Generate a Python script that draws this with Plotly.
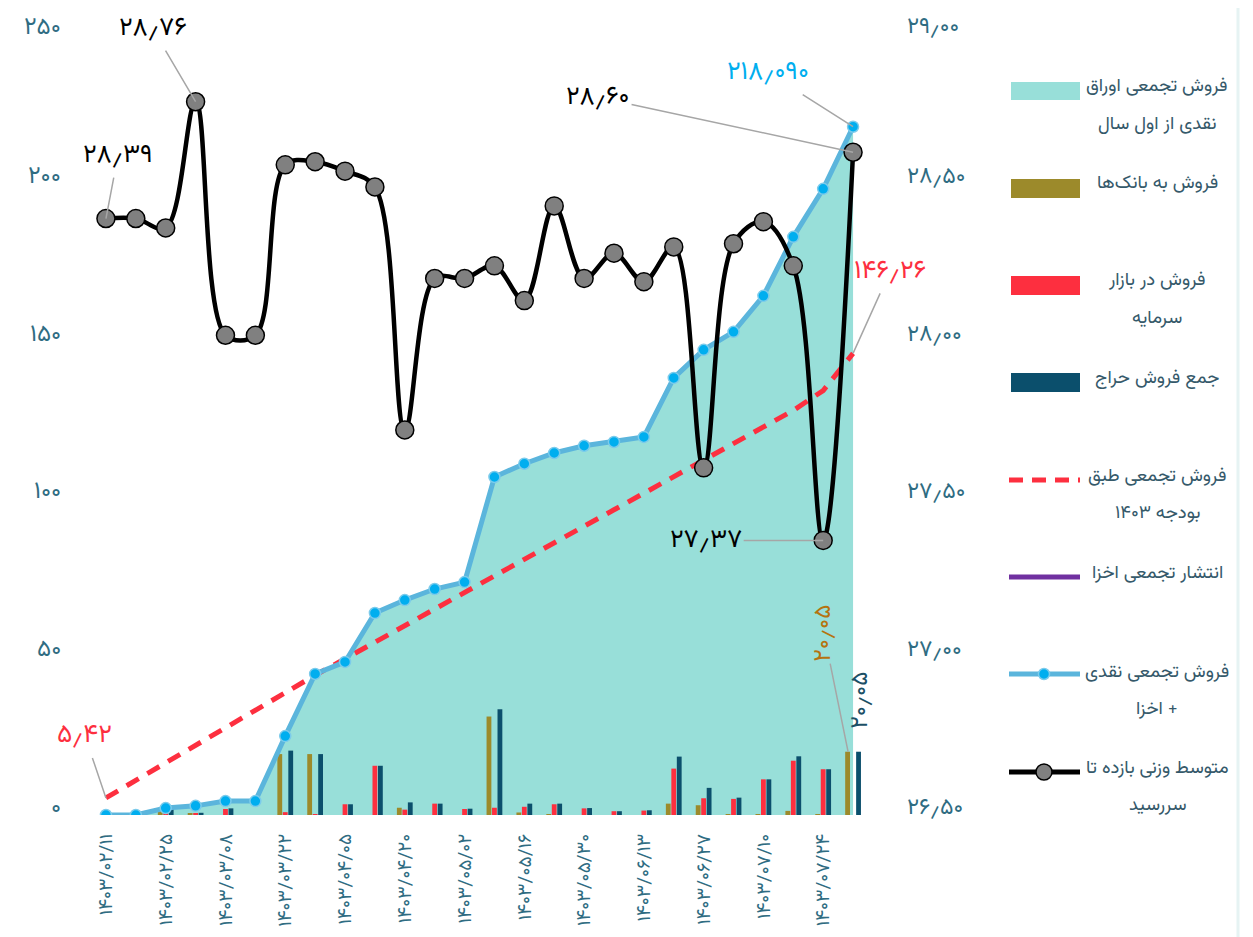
import plotly.graph_objects as go

W, H = 1253, 937
OFF = 8  # the page body adds an 8px margin; pixel positions below are page pixels

# ---- data -----------------------------------------------------------------
dates = [
    "1403/02/11", "1403/02/18", "1403/02/25", "1403/03/01", "1403/03/08",
    "1403/03/15", "1403/03/22", "1403/03/29", "1403/04/05", "1403/04/13",
    "1403/04/20", "1403/04/27", "1403/05/02", "1403/05/09", "1403/05/16",
    "1403/05/23", "1403/05/30", "1403/06/06", "1403/06/13", "1403/06/20",
    "1403/06/27", "1403/07/03", "1403/07/10", "1403/07/17", "1403/07/24",
    "1403/07/30",
]
# cumulative cash sales + akhza (left axis, thousand billion rials)
cumulative = [0.0, 0.0, 2.2, 2.9, 4.4, 4.4, 25.0, 44.7, 48.5, 64.0, 68.1, 71.6,
              73.8, 107.1, 111.3, 114.7, 117.0, 118.2, 119.8, 138.5, 147.4,
              153.1, 164.5, 183.2, 198.4, 218.09]
# cumulative sales per 1403 budget
budget = [5.42, 11.0, 16.6, 22.2, 27.8, 33.4, 39.0, 44.3, 49.5, 54.8, 60.0, 65.2,
          70.5, 75.7, 81.0, 86.2, 91.5, 96.7, 102.0, 107.2, 112.5, 117.7, 123.0,
          128.2, 134.5, 146.26]
banks = [0, 0, 1.5, 0.5, 0, 0, 19.3, 19.3, 0, 0, 2.3, 0, 0, 31.2, 0.8, 0.2, 0, 0,
         0, 3.6, 3.1, 0.3, 0.1, 1.3, 0.2, 20.05]
market = [0, 0, 0.5, 0.4, 1.9, 0, 0.9, 0.3, 3.4, 15.6, 1.7, 3.6, 1.9, 2.3, 2.6, 3.4,
          2.1, 1.2, 1.4, 14.7, 5.3, 5.1, 11.3, 17.2, 14.5, 0]
auction = [0, 0, 1.9, 0.7, 2.1, 0, 20.4, 19.3, 3.4, 15.6, 4.0, 3.6, 2.0, 33.5, 3.6,
           3.6, 2.2, 1.2, 1.5, 18.5, 8.6, 5.5, 11.3, 18.6, 14.5, 20.05]
# weighted average yield to maturity (right axis, %)
ytm = [28.39, 28.39, 28.36, 28.76, 28.02, 28.02, 28.56, 28.57, 28.54, 28.49, 27.72,
       28.20, 28.20, 28.24, 28.13, 28.43, 28.20, 28.28, 28.19, 28.30, 27.60, 28.31,
       28.38, 28.24, 27.37, 28.60]

left_ticks = [0, 50, 100, 150, 200, 250]
right_ticks = [26.5, 27.0, 27.5, 28.0, 28.5, 29.0]

FONT = "Vazirmatn, 'DejaVu Sans', sans-serif"
AXIS_COLOUR = "#2f6c82"
LEGEND_COLOUR = "#35596a"
TEAL_FILL = "#98dfd9"
OLIVE = "#9c8a2b"
RED = "#fd2f3f"
NAVY = "#0b4f6c"
BLUE_LINE = "#5bb5dc"
BLUE_DOT = "#00aeef"
PURPLE = "#7030a0"
LEADER = "#a6a6a6"

FA = str.maketrans("0123456789.", "۰۱۲۳۴۵۶۷۸۹٫")


def fa(s):
    return str(s).translate(FA)


def px(x):
    return (x - OFF) / W


def py(y):
    return 1 - (y - OFF) / H


fig = go.Figure()

# area under the cumulative line (main subplot, drawn lowest)
fig.add_trace(go.Scatter(x=dates, y=cumulative, mode="lines", fill="tozeroy",
                         fillcolor=TEAL_FILL, line=dict(width=0, color=TEAL_FILL),
                         yaxis="y", showlegend=False, hoverinfo="skip"))

# bars on an overlaying axis so they sit above the fill
for vals, colour, name in [(banks, OLIVE, "فروش به بانک‌ها"),
                           (market, RED, "فروش در بازار سرمایه"),
                           (auction, NAVY, "جمع فروش حراج")]:
    fig.add_trace(go.Bar(x=dates, y=vals, marker=dict(color=colour, line=dict(width=0)),
                         name=name, yaxis="y2", showlegend=False))

fig.add_trace(go.Scatter(x=dates, y=budget, mode="lines",
                         line=dict(color=RED, width=5, dash="14px,10px"),
                         yaxis="y3", showlegend=False))
fig.add_trace(go.Scatter(x=dates, y=cumulative, mode="lines+markers",
                         line=dict(color=BLUE_LINE, width=5),
                         marker=dict(size=11, color=BLUE_DOT,
                                     line=dict(width=1.5, color="#7ccbeb")),
                         yaxis="y3", showlegend=False))
fig.add_trace(go.Scatter(x=dates, y=ytm, mode="lines+markers",
                         line=dict(color="black", width=4.5, shape="spline"),
                         marker=dict(size=18, color="#808080",
                                     line=dict(width=1.5, color="black")),
                         yaxis="y4", showlegend=False))

# ---- value labels -----------------------------------------------------------
def label(i, y, text, colour, ax, ay, yref="y", size=26, angle=0, xshift=0,
          arrow=True):
    fig.add_annotation(x=dates[i], y=y, xref="x", yref=yref, text=fa(text),
                       showarrow=True, ax=ax, ay=ay, arrowhead=0,
                       arrowwidth=1.5,
                       arrowcolor=LEADER if arrow else "rgba(0,0,0,0)",
                       textangle=angle, xshift=xshift,
                       font=dict(family=FONT, size=size, color=colour))


label(0, ytm[0], "28.39", "black", 12, -63, yref="y4")
label(3, ytm[3], "28.76", "black", -43, -73, yref="y4")
label(25, ytm[25], "28.60", "black", -255, -55, yref="y4")
label(24, ytm[24], "27.37", "black", -117, 0, yref="y4")
label(25, cumulative[25], "218.090", BLUE_DOT, -85, -54)
label(25, budget[25], "146.26", RED, 37, -82)
label(0, budget[0], "5.42", RED, -21, -62)
label(25, banks[25], "20.05", "#b5730f", -24, -118, angle=-90, xshift=-5, size=24)
label(25, auction[25], "20.05", "#1c5066", 2, -51, angle=-90, xshift=6, size=24,
      arrow=False)

# y tick labels: the source font sits them a few pixels above their value
# (the top one lower, so it stays inside the page)
for v in left_ticks:
    fig.add_annotation(xref="paper", yref="y", x=px(63), y=v, text=fa(v),
                       showarrow=False, xanchor="right", yanchor="middle",
                       yshift=-2 if v == left_ticks[-1] else 7,
                       font=dict(family=FONT, size=24, color=AXIS_COLOUR))
for v in right_ticks:
    fig.add_annotation(xref="paper", yref="y4", x=px(905), y=v, text=fa(f"{v:.2f}"),
                       showarrow=False, xanchor="left", yanchor="middle",
                       yshift=-1 if v == right_ticks[-1] else 7,
                       font=dict(family=FONT, size=23, color=AXIS_COLOUR))

# ---- custom legend ------------------------------------------------------------
shapes = []
def rect(y0, y1, colour):
    shapes.append(dict(type="rect", xref="paper", yref="paper",
                       x0=px(1011), x1=px(1080), y0=py(y1), y1=py(y0),
                       fillcolor=colour, line=dict(width=0)))


def hline(y, colour, dash="solid", width=5):
    shapes.append(dict(type="line", xref="paper", yref="paper",
                       x0=px(1009), x1=px(1080), y0=py(y), y1=py(y),
                       line=dict(color=colour, width=width, dash=dash)))


def dot(y, r, fill, edge):
    shapes.append(dict(type="circle", xref="paper", yref="paper",
                       x0=px(1044 - r), x1=px(1044 + r), y0=py(y + r), y1=py(y - r),
                       fillcolor=fill, line=dict(color=edge, width=1.5)))


def legend_text(lines, y_first, gap=37):
    for k, t in enumerate(lines):
        fig.add_annotation(xref="paper", yref="paper", x=px(1157), y=py(y_first + k * gap),
                           text=fa(t), showarrow=False, xanchor="center",
                           yanchor="middle",
                           font=dict(family=FONT, size=18.5, color=LEGEND_COLOUR))


rect(82, 100, TEAL_FILL)
legend_text(["فروش تجمعی اوراق", "نقدی از اول سال"], 87)
rect(179, 198, OLIVE)
legend_text(["فروش به بانک‌ها"], 183)
rect(276, 295, RED)
legend_text(["فروش در بازار", "سرمایه"], 281)
rect(373, 392, NAVY)
legend_text(["جمع فروش حراج"], 378)
hline(480, RED, dash="14px,9px")
legend_text(["فروش تجمعی طبق", "بودجه 1403"], 476)
hline(577, PURPLE)
legend_text(["انتشار تجمعی اخزا"], 573)
hline(674, BLUE_LINE)
dot(674, 5.5, BLUE_DOT, "#7ccbeb")
legend_text(["فروش تجمعی نقدی", "اخزا +"], 672)
hline(772, "black")
dot(772, 8, "#808080", "black")
legend_text(["متوسط وزنی بازده تا", "سررسید"], 768)
shapes.append(dict(type="line", xref="paper", yref="paper", x0=px(1238), x1=px(1238),
                   y0=0, y1=1, line=dict(color="#e6f3f3", width=3)))

# ---- layout -----------------------------------------------------------------
xdom = [px(91), px(868)]
ydom = [py(815), py(26)]
hidden = dict(overlaying="y", range=[0, 250], visible=False, fixedrange=True)

fig.update_layout(
    width=W, height=H,
    margin=dict(l=0, r=0, t=0, b=0),
    paper_bgcolor="white", plot_bgcolor="white",
    font=dict(family=FONT, color=AXIS_COLOUR),
    barmode="group", bargap=0.45, bargroupgap=0.12,
    showlegend=False,
    shapes=shapes,
    xaxis=dict(type="category", domain=xdom, range=[-0.5, len(dates) - 0.5],
               tickmode="array", tickvals=dates[::2],
               ticktext=[fa(d) for d in dates[::2]], tickangle=-90,
               tickfont=dict(size=19, color=AXIS_COLOUR), showgrid=False,
               showline=False, ticks="", ticklabelstandoff=14, automargin=False,
               zeroline=False),
    yaxis=dict(domain=ydom, range=[0, 250], tickvals=left_ticks,
               showticklabels=False, showgrid=False,
               zeroline=False, showline=False, ticks="", automargin=False),
    yaxis2=hidden,
    yaxis3=hidden,
    yaxis4=dict(overlaying="y", side="right", range=[26.5, 29.0],
                tickvals=right_ticks, showticklabels=False, showgrid=False,
                zeroline=False, showline=False, ticks="", automargin=False),
)

fig.write_html("out.html")
